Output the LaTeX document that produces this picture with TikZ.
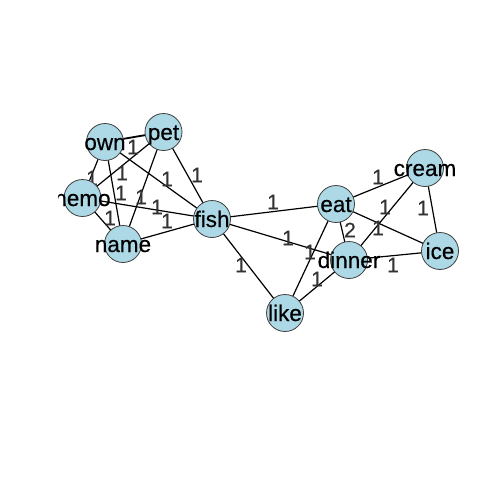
\documentclass[tikz,border=0pt]{standalone}
\usepackage{fontspec}
\setmainfont{Liberation Sans}
\newfontfamily\labfont[FakeBold=0.4]{Liberation Sans}
\definecolor{vfill}{HTML}{ADD8E6}
\definecolor{elab}{HTML}{333333}
\begin{document}
\begin{tikzpicture}[x=1pt,y=-1pt,
  vert/.style={circle,draw=black!75,line width=0.8pt,fill=vfill,minimum size=37pt,inner sep=0pt},
  vlab/.style={font=\labfont\fontsize{22.5}{22.5}\selectfont,text=black,inner sep=0pt,text height=16pt,text depth=0pt},
  edge/.style={line width=1.2pt,black},
  elabel/.style={font=\labfont\fontsize{21}{21}\selectfont,text=elab,inner sep=0pt}]
\useasboundingbox[fill=white] (0,0) rectangle (480,480);
% vertex positions
\coordinate (own) at (105,142);
\coordinate (pet) at (163.5,132);
\coordinate (nemo) at (82.5,198);
\coordinate (name) at (123,244);
\coordinate (fish) at (212,219);
\coordinate (eat) at (336,204);
\coordinate (cream) at (425,168);
\coordinate (dinner) at (349,260);
\coordinate (ice) at (440,251);
\coordinate (like) at (285,313);
% edges
\draw[edge,line width=1.8pt] (own) -- (pet);
\draw[edge] (own) -- (nemo);
\draw[edge] (own) -- (name);
\draw[edge] (own) -- (fish);
\draw[edge] (pet) -- (nemo);
\draw[edge] (pet) -- (name);
\draw[edge] (pet) -- (fish);
\draw[edge] (nemo) -- (name);
\draw[edge] (nemo) -- (fish);
\draw[edge] (name) -- (fish);
\draw[edge] (fish) -- (eat);
\draw[edge] (fish) -- (dinner);
\draw[edge] (fish) -- (like);
\draw[edge] (eat) -- (cream);
\draw[edge] (eat) -- (dinner);
\draw[edge] (eat) -- (ice);
\draw[edge] (eat) -- (like);
\draw[edge] (cream) -- (dinner);
\draw[edge] (cream) -- (ice);
\draw[edge] (dinner) -- (ice);
\draw[edge] (dinner) -- (like);
% edge labels
\node[elabel] (l1) at (133,147) {1};
\node[elabel] (l2) at (92,178) {1};
\node[elabel] (l3) at (122,173) {1};
\node[elabel] (l4) at (121,193) {1};
\node[elabel] (l5) at (141,197) {1};
\node[elabel] (l6) at (167,179) {1};
\node[elabel] (l7) at (197,175) {1};
\node[elabel] (l8) at (157,207) {1};
\node[elabel] (l9) at (167,221) {1};
\node[elabel] (l10) at (110,218) {1};
\node[elabel] (l11) at (273,202) {1};
\node[elabel] (l12) at (378,177) {1};
\node[elabel] (l13) at (385,207) {1};
\node[elabel] (l14) at (378,228) {1};
\node[elabel] (l15) at (423,208) {1};
\node[elabel] (l16) at (350,230) {2};
\node[elabel] (l17) at (288,238) {1};
\node[elabel] (l18) at (310,252) {1};
\node[elabel] (l19) at (317,279) {1};
\node[elabel] (l20) at (393,265) {1};
\node[elabel] (l21) at (241,265) {1};
% vertices
\foreach \v in {own,pet,nemo,name,fish,eat,cream,dinner,ice,like}
  \node[vert] (c\v) at (\v) {};
% vertex labels
\begin{scope}
\clip (58,0) rectangle (480,480);
\foreach \v in {own,pet,nemo,name,fish,eat,cream,dinner,ice,like}
  \node[vlab] (t\v) at (\v) {\v};
\end{scope}
\end{tikzpicture}
\end{document}
